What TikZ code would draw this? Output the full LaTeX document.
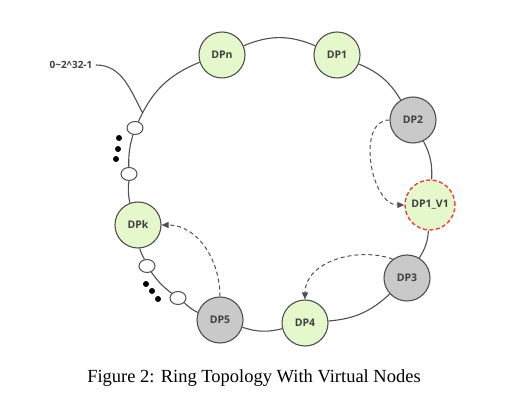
\documentclass[tikz,border=0pt]{standalone}
\usepackage{fontspec}
\setmainfont{Liberation Serif}
\newfontfamily\labelfont{Open Sans}
\usetikzlibrary{shapes.geometric, arrows.meta}
\definecolor{dpgreen}{HTML}{E4F8CC}
\definecolor{dpgray}{HTML}{C9C9C9}
\definecolor{ringline}{HTML}{505050}
\definecolor{vred}{HTML}{E8403A}

\begin{document}
\begin{tikzpicture}[x=1pt, y=1pt,
    dpnode/.style={circle, draw=ringline, line width=1.1pt, minimum size=46pt, inner sep=0pt,
      font=\labelfont\bfseries\fontsize{10.5}{12}\selectfont, text=black!75},
    real/.style={dpnode, fill=dpgreen},
    moved/.style={dpnode, fill=dpgray},
    virtual/.style={dpnode, fill=dpgreen, draw=vred, line width=1.4pt, dash pattern=on 4pt off 2.5pt, minimum size=50pt},
    slot/.style={ellipse, draw=ringline, line width=1pt, fill=white, minimum width=16pt, minimum height=13pt, inner sep=0pt},
    ring/.style={draw=ringline, line width=1.1pt},
    remap/.style={draw=ringline, line width=1pt, dash pattern=on 4pt off 3pt, -{Triangle[length=7pt, width=6pt]}}]
    \useasboundingbox (0,0) rectangle (513,417);

    % hash ring nodes
    \node[real] (dpn) at (222, 362) {DPn};
    \node[real] (dp1) at (337, 362) {DP1};
    \node[moved] (dp2) at (413, 297) {DP2};
    \node[virtual] (v1) at (430, 212) {DP1\_V1};
    \node[moved] (dp3) at (407, 139) {DP3};
    \node[real] (dp4) at (305, 94) {DP4};
    \node[moved] (dp5) at (220, 97) {DP5};
    \node[real] (dpk) at (138, 192) {DPk};

    % empty slots
    \node[slot] (o1) at (135, 289) {};
    \node[slot] (o2) at (129, 243) {};
    \node[slot] (o3) at (147, 151) {};
    \node[slot] (o4) at (178, 119) {};
    \foreach \x/\y in {119/279, 118/268, 116/258, 146/133, 152/126, 158/118}
        \fill (\x, \y) circle (3pt);

    % ring, clockwise
    \foreach \a/\b/\bend in {dpn/dp1/23, dp1/dp2/18, dp2/v1/15, v1/dp3/14, dp3/dp4/19, dp4/dp5/16,
        dp5/o4/9, o4/o3/9, o3/dpk/8, dpk/o2/10, o2/o1/9}
        \draw[ring] (\a) to[bend left=\bend] (\b);
    \draw[ring] (o1) to[bend left=22] coordinate[pos=0.1] (zero) (dpn);

    \node[font=\labelfont\bfseries\fontsize{10}{12}\selectfont, text=black!75] (range) at (71, 352)
        {0\textasciitilde2\textasciicircum32-1};
    \draw[ring] (range.east) to[out=0, in=118] (zero);

    % remapped keys
    \draw[remap] (dp2.west) to[out=180, in=180] (v1.west);
    \draw[remap] (dp3.127) to[out=160, in=90] (dp4.north);
    \draw[remap] (dp5.north) to[out=90, in=0] (dpk.east);

    \node[font=\fontsize{18.5}{22}\selectfont] (caption) at (254, 39) {Figure 2: Ring Topology With Virtual Nodes};
\end{tikzpicture}
\end{document}
